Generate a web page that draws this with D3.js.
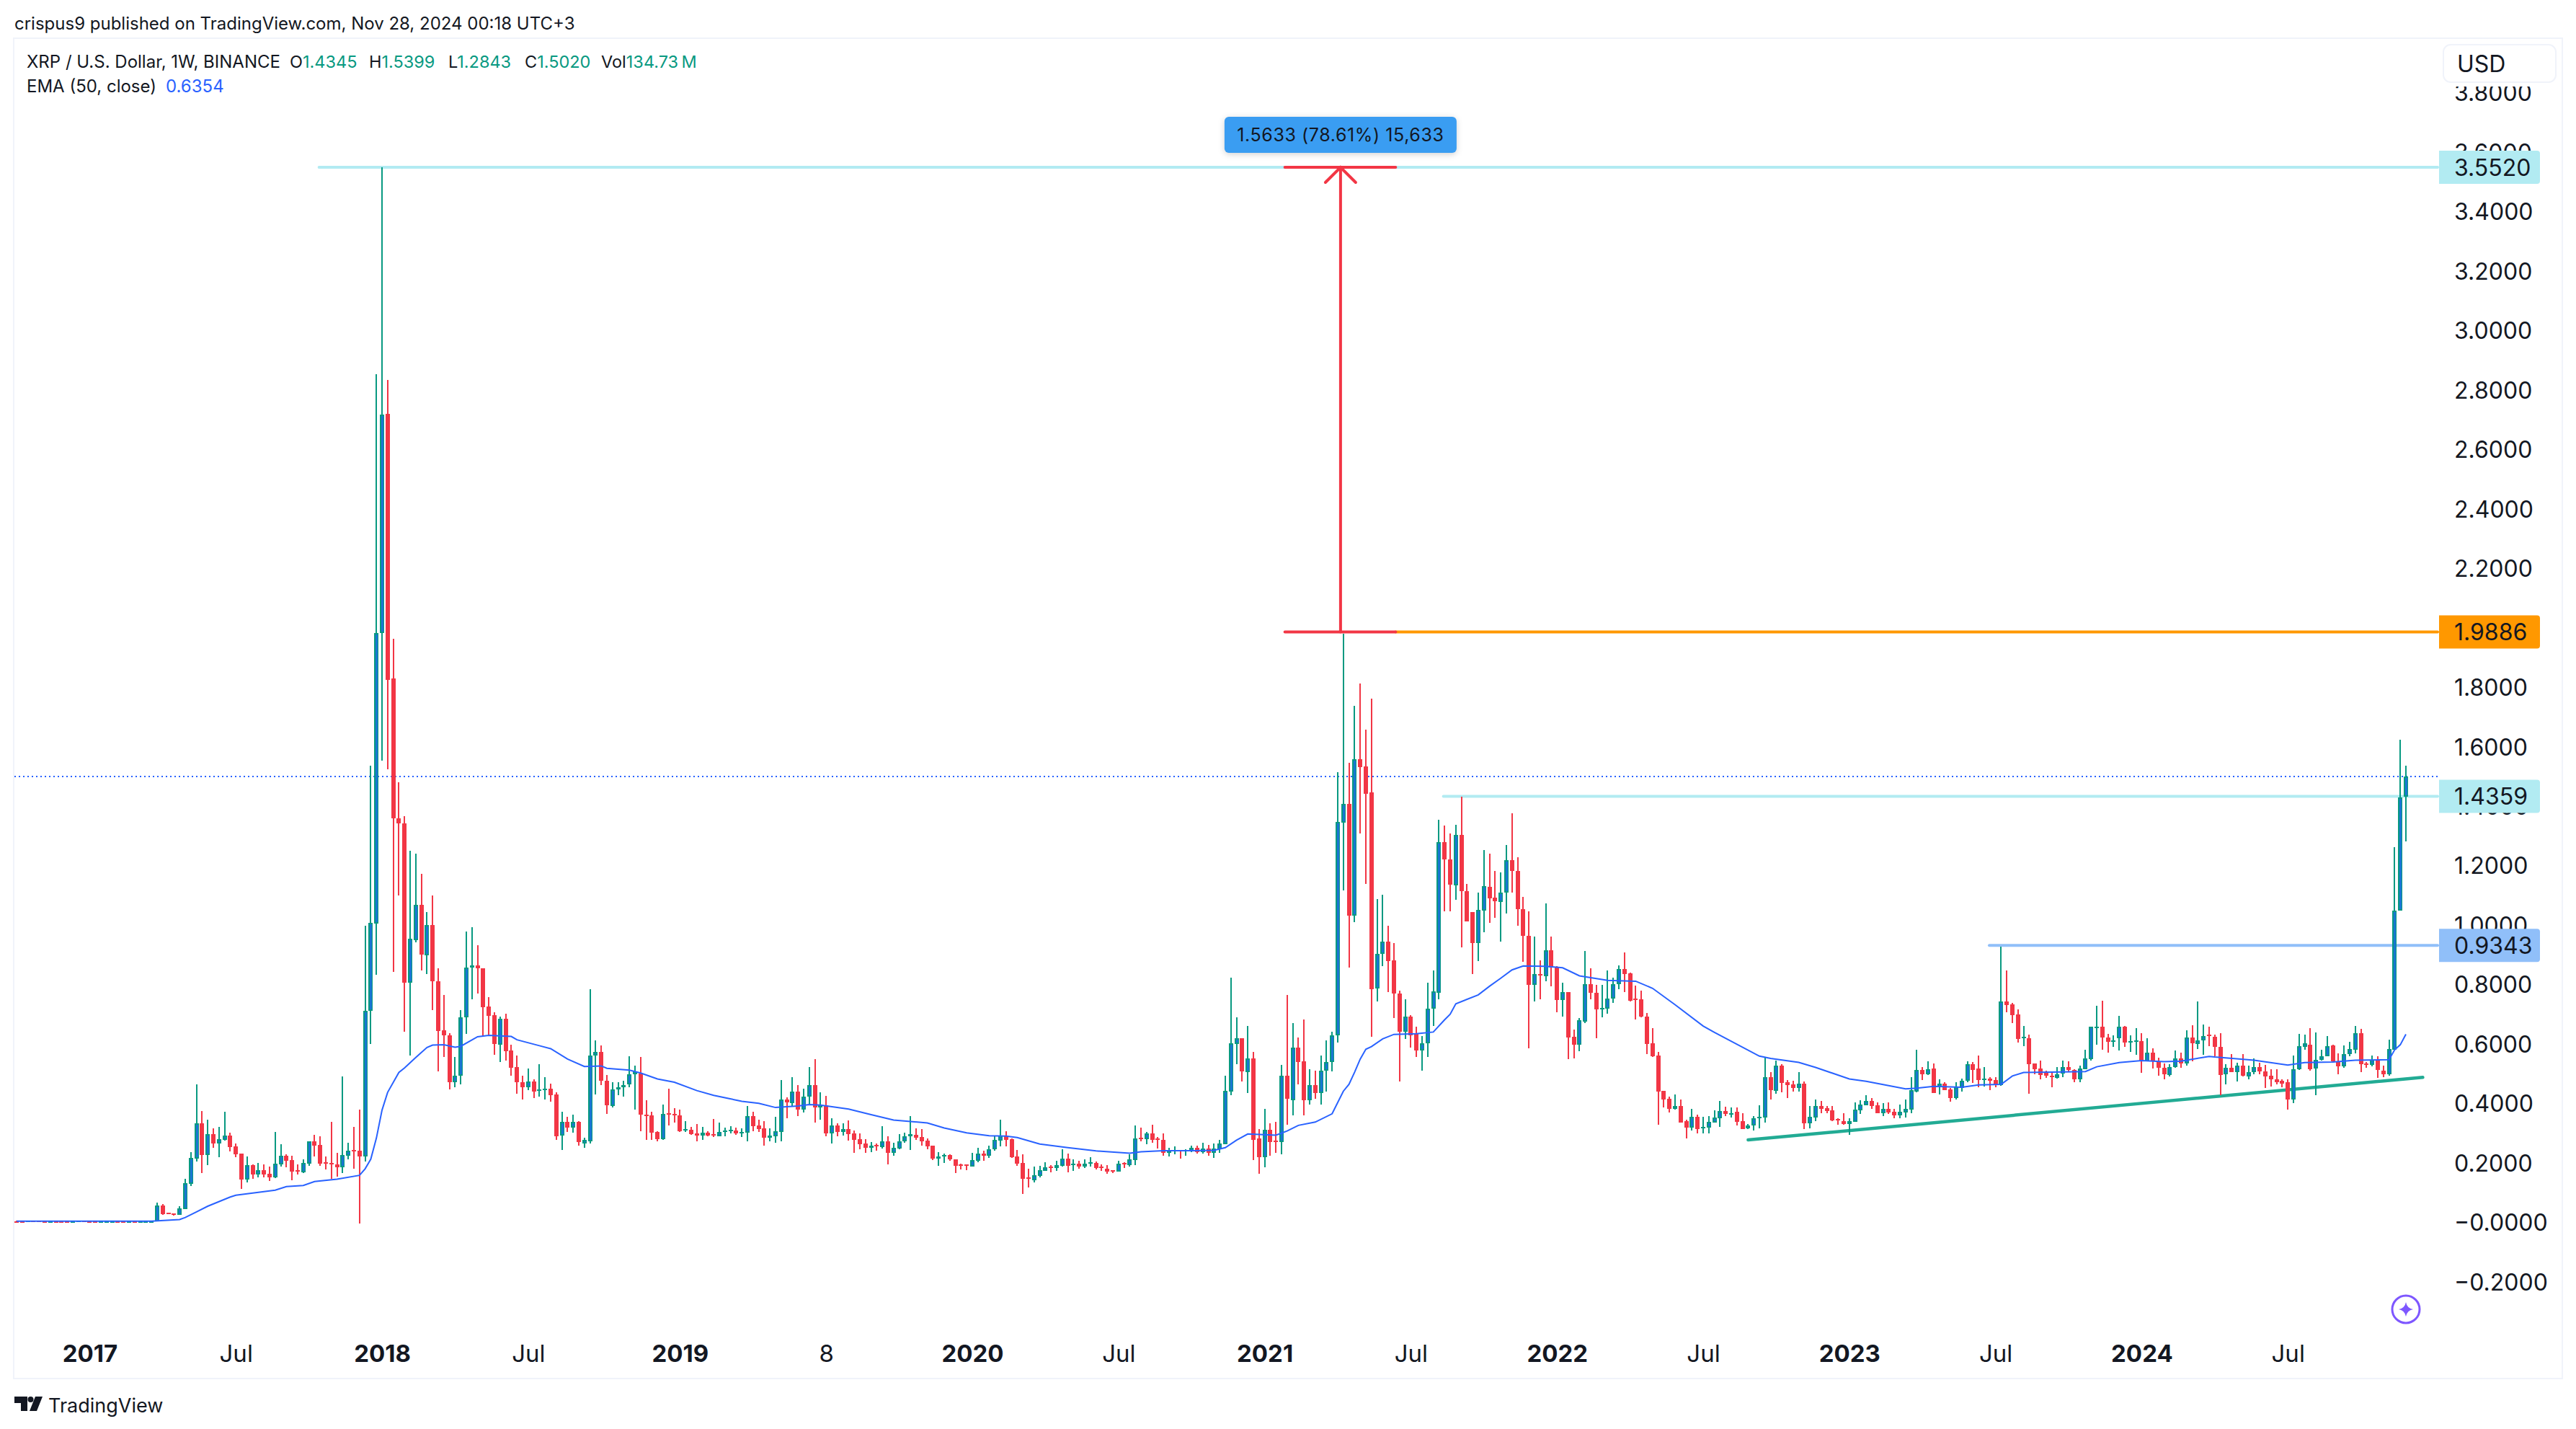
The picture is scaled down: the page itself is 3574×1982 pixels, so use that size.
<!DOCTYPE html>
<html>
<head>
<meta charset="utf-8">
<script src="https://d3js.org/d3.v7.min.js"></script>
<style>
  html, body { margin: 0; padding: 0; background: #fff; }
  svg { display: block; }
  text { font-family: Inter, "Noto Sans", sans-serif; fill: #131722; }
</style>
</head>
<body>
<div id="chart"></div>
<script>
//Weekly XRP candles, bar 65 is the week of Jan 1 2018, bar 425 is the last one
const opens = [
.0070,.0068,.0060,.0082,.0075,.0068,.0066,.0072,.0070,.0072,.0060,.0062,.0075,.0070,.0058,.0050,.0060,.0062,.0064,.0068,.0056,.0068,.0056,.0058,.0062,
.007,.0595,.034,.032,.029,.048,.132,.217,.336,.229,
.30,.268,.28,.295,.258,.234,.147,.195,.164,.178,
.166,.154,.198,.227,.212,.178,.171,.2,.275,.263,
.205,.203,.198,.188,.227,.246,.244,.225,.714,1.009,
1.986,2.723,1.833,1.363,1.345,.809,.951,1.07,.902,1.004,
.814,.648,.632,.474,.496,.693,.861,.868,.858,.728,
.699,.601,.688,.58,.524,.473,.457,.477,.448,.451,
.453,.434,.293,.34,.32,.341,.27,.276,.564,.575,
.48,.394,.45,.457,.465,.5,.504,.366,.363,.306,
.282,.37,.367,.363,.313,.315,.303,.295,.305,.30,
.293,.309,.312,.312,.303,.306,.361,.329,.32,.288,
.293,.308,.417,.405,.443,.383,.426,.465,.39,.397,
.303,.329,.308,.317,.303,.283,.269,.254,.264,.257,
.276,.237,.252,.275,.293,.298,.29,.278,.261,.218,
.225,.228,.215,.198,.198,.191,.21,.235,.227,.249,
.278,.293,.283,.225,.203,.154,.145,.16,.177,.191,
.186,.194,.218,.194,.199,.189,.199,.203,.191,.184,
.179,.174,.203,.196,.213,.288,.283,.303,.286,.281,
.237,.241,.245,.243,.242,.254,.24,.252,.237,.25,
.265,.441,.601,.621,.51,.555,.284,.222,.315,.277,
.272,.495,.415,.591,.545,.413,.465,.438,.513,.543,
.63,1.347,1.41,1.033,1.56,1.537,1.449,.789,.904,.946,
.883,.773,.645,.695,.636,.581,.605,.721,.777,1.283,
1.224,1.138,1.307,1.117,1.047,.942,1.052,1.132,1.094,1.081,
1.112,1.221,1.186,1.057,.967,.802,.838,.83,.918,.859,
.75,.778,.626,.599,.68,.805,.775,.72,.723,.756,
.803,.856,.84,.755,.752,.696,.605,.565,.446,.419,
.385,.395,.344,.322,.358,.32,.322,.34,.354,.378,
.368,.375,.344,.319,.329,.354,.354,.49,.446,.531,
.475,.468,.456,.47,.337,.355,.395,.387,.38,.351,
.344,.334,.341,.381,.397,.412,.397,.37,.385,.375,
.363,.373,.383,.444,.516,.502,.521,.458,.47,.45,
.421,.456,.48,.536,.521,.482,.487,.482,.465,.747,
.737,.703,.621,.623,.538,.521,.507,.497,.49,.502,
.524,.516,.485,.519,.552,.657,.66,.625,.611,.62,
.66,.61,.611,.613,.545,.574,.545,.523,.5,.524,
.554,.537,.624,.605,.616,.634,.626,.594,.5,.522,
.507,.529,.494,.507,.524,.51,.496,.485,.48,.475,
.417,.518,.594,.601,.52,.548,.561,.597,.545,.527,
.569,.583,.639,.537,.532,.547,.513,.5,.583,1.051,
1.4345];

const closes = [
.0062,.0060,.0082,.0070,.0060,.0062,.0072,.0062,.0062,.0060,.0062,.0075,.0062,.0058,.0050,.0058,.0062,.0064,.0056,.0056,.0068,.0056,.0058,.0062,.0070,
.0595,.031,.031,.028,.050,.135,.220,.336,.229,.30,
.268,.283,.295,.256,.232,.147,.195,.164,.178,.164,
.154,.20,.227,.21,.174,.174,.203,.275,.261,.2,
.2,.198,.188,.229,.244,.241,.225,.715,1.009,1.986,
2.72,1.829,1.363,1.345,.809,.956,1.07,.902,1.004,.814,
.646,.632,.474,.496,.693,.861,.868,.858,.728,.697,
.601,.688,.58,.521,.474,.457,.477,.443,.451,.453,
.431,.293,.34,.32,.34,.273,.281,.564,.576,.479,
.397,.45,.457,.465,.5,.51,.366,.363,.306,.282,
.367,.367,.363,.31,.317,.30,.295,.305,.295,.295,
.307,.312,.315,.303,.308,.361,.327,.317,.288,.295,
.31,.417,.407,.443,.383,.426,.465,.39,.397,.303,
.329,.308,.317,.30,.281,.266,.254,.261,.259,.276,
.237,.254,.276,.293,.30,.288,.276,.259,.218,.225,
.23,.213,.193,.193,.193,.213,.235,.227,.249,.281,
.293,.281,.222,.2,.15,.15,.162,.179,.189,.186,
.196,.218,.194,.199,.189,.199,.204,.186,.186,.174,
.174,.2,.198,.215,.286,.283,.303,.281,.282,.237,
.241,.245,.243,.247,.254,.24,.252,.237,.252,.269,
.445,.604,.621,.51,.555,.282,.222,.313,.273,.273,
.495,.418,.591,.542,.413,.465,.438,.514,.543,.632,
1.349,1.41,1.034,1.56,1.534,1.446,.787,.905,.946,.88,
.771,.645,.695,.632,.581,.605,.721,.78,1.283,1.224,
1.138,1.307,1.117,1.015,.942,1.053,1.134,1.093,1.081,1.113,
1.221,1.185,1.058,.967,.802,.838,.834,.918,.859,.75,
.777,.626,.599,.682,.805,.775,.719,.725,.756,.805,
.855,.84,.747,.752,.693,.604,.562,.444,.417,.385,
.395,.339,.322,.358,.317,.323,.341,.356,.378,.368,
.371,.341,.317,.329,.354,.358,.49,.446,.531,.472,
.465,.456,.47,.337,.358,.395,.385,.378,.347,.347,
.334,.344,.383,.4,.412,.395,.37,.385,.373,.363,
.375,.385,.448,.516,.502,.519,.439,.47,.448,.421,
.458,.48,.536,.516,.482,.487,.48,.465,.747,.735,
.701,.621,.626,.536,.519,.5,.494,.492,.502,.524,
.514,.485,.521,.555,.66,.661,.623,.611,.616,.66,
.606,.613,.615,.545,.574,.545,.523,.5,.526,.554,
.537,.624,.605,.616,.63,.63,.592,.5,.522,.507,
.529,.494,.509,.524,.509,.494,.485,.475,.471,.417,
.518,.596,.605,.518,.55,.561,.596,.543,.527,.569,
.585,.639,.534,.534,.549,.516,.5,.585,1.052,1.432,
1.502];

const highs = [
.0076,.0074,.0088,.0088,.0081,.0074,.0078,.0078,.0076,.0078,.0068,.0081,.0081,.0076,.0064,.0064,.0068,.0070,.0070,.0074,.0074,.0074,.0064,.0068,.0076,
.069,.064,.034,.033,.056,.149,.239,.467,.377,.348,
.318,.324,.375,.305,.268,.234,.225,.198,.203,.198,
.19,.307,.266,.232,.227,.198,.215,.275,.297,.292,
.224,.341,.237,.494,.271,.324,.382,1.0,1.54,2.857,
3.552,2.837,1.966,1.482,1.368,1.252,1.244,1.174,1.046,1.103,
.858,.767,.64,.56,.717,.982,.995,.934,.858,.761,
.71,.694,.704,.601,.563,.496,.521,.485,.536,.49,
.47,.44,.375,.357,.366,.344,.288,.786,.615,.598,
.499,.474,.473,.479,.561,.529,.56,.414,.375,.31,
.398,.452,.386,.381,.342,.325,.334,.325,.31,.351,
.339,.322,.327,.322,.32,.395,.375,.349,.342,.32,
.358,.482,.424,.49,.465,.453,.526,.552,.441,.429,
.354,.337,.337,.346,.312,.303,.283,.274,.269,.327,
.293,.271,.3,.305,.361,.32,.317,.285,.261,.239,
.235,.232,.215,.2,.198,.237,.254,.244,.261,.295,
.349,.31,.286,.247,.232,.184,.191,.193,.206,.196,
.21,.249,.235,.215,.21,.215,.221,.208,.198,.196,
.179,.21,.205,.232,.329,.322,.308,.332,.29,.303,
.254,.259,.245,.249,.261,.261,.271,.264,.269,.279,
.497,.827,.693,.621,.664,.576,.317,.384,.336,.341,
.533,.768,.674,.625,.685,.518,.513,.564,.616,.645,
1.517,1.983,1.548,1.741,1.815,1.659,1.765,1.09,1.104,1.0,
.942,.781,.754,.7,.66,.63,.81,.851,1.358,1.337,
1.312,1.341,1.435,1.141,1.047,1.113,1.254,1.242,1.186,1.181,
1.271,1.38,1.231,1.097,1.05,.963,.884,1.075,.964,.864,
.809,.778,.651,.691,.915,.858,.801,.802,.849,.827,
.866,.911,.843,.798,.781,.706,.657,.577,.446,.426,
.434,.417,.349,.385,.366,.358,.361,.38,.41,.392,
.39,.39,.371,.334,.361,.397,.558,.509,.548,.536,
.482,.48,.509,.477,.395,.417,.41,.395,.395,.354,
.37,.354,.407,.414,.431,.422,.407,.405,.407,.385,
.4,.417,.492,.584,.526,.545,.538,.485,.473,.455,
.475,.487,.545,.543,.565,.526,.491,.491,.931,.851,
.742,.72,.664,.635,.538,.548,.512,.507,.524,.548,
.545,.519,.531,.584,.662,.732,.749,.637,.632,.698,
.663,.632,.657,.64,.623,.588,.556,.537,.534,.58,
.574,.65,.666,.746,.667,.662,.634,.64,.534,.569,
.54,.569,.529,.554,.54,.532,.518,.518,.483,.485,
.565,.637,.635,.655,.642,.583,.63,.601,.572,.599,
.61,.664,.653,.543,.564,.561,.531,.618,1.266,1.627,
1.5399];

const lows = [
.0056,.0054,.0054,.0064,.0054,.0056,.0060,.0056,.0056,.0054,.0054,.0056,.0056,.0052,.0044,.0044,.0054,.0056,.0050,.0050,.0050,.0050,.0050,.0052,.0056,
.006,.029,.030,.026,.028,.048,.126,.208,.169,.195,
.254,.223,.278,.241,.222,.115,.137,.149,.154,.154,
.142,.152,.19,.188,.144,.164,.169,.193,.225,.193,
.181,.149,.157,.169,.215,.183,0,.208,.603,.835,
1.555,1.526,.846,1.102,.645,.564,.944,.851,.838,.717,
.511,.56,.451,.456,.467,.637,.753,.773,.626,.635,
.567,.542,.546,.496,.436,.417,.448,.422,.425,.416,
.408,.281,.245,.307,.304,.26,.253,.268,.432,.465,
.367,.389,.431,.425,.457,.381,.309,.281,.279,.275,
.28,.329,.338,.307,.306,.298,.276,.281,.293,.29,
.293,.293,.301,.298,.291,.276,.31,.308,.261,.276,
.271,.276,.354,.392,.361,.373,.402,.339,.349,.293,
.269,.293,.295,.278,.237,.249,.237,.24,.244,.252,
.198,.227,.249,.271,.247,.281,.261,.249,.213,.193,
.203,.21,.169,.181,.179,.191,.206,.21,.22,.244,
.259,.259,.22,.193,.099,.121,.138,.155,.177,.172,
.176,.191,.172,.176,.184,.186,.191,.181,.176,.167,
.169,.174,.186,.191,.196,.276,.266,.271,.252,.227,
.225,.232,.218,.227,.239,.235,.235,.227,.22,.237,
.265,.43,.534,.477,.438,.213,.167,.187,.226,.236,
.232,.331,.362,.467,.362,.4,.418,.398,.443,.51,
.607,1.119,.861,1.013,1.312,1.14,.626,.746,.864,.777,
.691,.477,.62,.591,.559,.514,.559,.663,.752,1.048,
1.048,1.087,.928,1.015,.837,.881,.978,1.009,1.027,.947,
1.041,1.113,1.001,.879,.589,.747,.752,.814,.797,.71,
.694,.552,.555,.579,.673,.752,.622,.693,.704,.741,
.788,.778,.745,.685,.693,.568,.558,.332,.39,.373,
.383,.339,.285,.312,.303,.303,.303,.34,.325,.361,
.356,.329,.317,.317,.312,.32,.339,.417,.436,.439,
.422,.443,.443,.317,.32,.344,.37,.37,.344,.331,
.331,.298,.341,.368,.397,.385,.37,.361,.368,.353,
.353,.356,.37,.441,.482,.499,.439,.434,.448,.409,
.416,.443,.475,.472,.456,.46,.448,.458,.463,.71,
.674,.608,.596,.436,.501,.485,.489,.458,.487,.49,
.507,.473,.473,.519,.548,.6,.584,.574,.594,.582,
.592,.577,.567,.505,.545,.521,.496,.485,.494,.523,
.523,.529,.545,.585,.567,.596,.561,.431,.466,.507,
.477,.494,.483,.502,.502,.455,.46,.466,.458,.381,
.404,.516,.583,.513,.431,.548,.561,.54,.502,.523,
.561,.572,.507,.523,.527,.488,.491,.496,.583,1.051,
1.2843];

//EMA at these bars
const emaBars = [0,24,29,30,32,34,38,39,46,48,51,53,57,61,62,63,64,65,66,68,69,71,73,74,76,78,79,82,84,88,89,93,95,98,101,104,105,109,111,114,117,121,124,129,132,135,139,141,143,148,152,156,162,165,169,173,176,178,182,187,192,198,200,204,209,213,215,217,219,224,226,228,231,234,236,237,238,239,240,241,243,245,249,252,254,255,256,260,262,264,266,268,272,275,278,283,288,291,295,300,302,310,312,317,320,326,329,336,338,341,346,349,353,355,357,362,368,370,374,378,382,385,390,391,398,404,407,412,416,422,423,424,425];
const emaValues = [.0065,.0068,.012,.019,.038,.057,.088,.094,.111,.123,.127,.14,.148,.161,.183,.215,.286,.38,.44,.507,.522,.557,.591,.599,.6,.592,.595,.627,.632,.628,.617,.597,.587,.552,.527,.529,.521,.515,.505,.485,.474,.446,.43,.41,.403,.389,.394,.399,.397,.384,.365,.347,.337,.32,.304,.294,.293,.288,.266,.254,.243,.235,.24,.244,.244,.245,.254,.279,.30,.296,.31,.329,.34,.368,.444,.467,.508,.552,.585,.594,.62,.635,.637,.643,.684,.703,.738,.768,.797,.824,.852,.865,.864,.859,.832,.817,.814,.79,.735,.663,.642,.562,.554,.541,.524,.485,.477,.452,.454,.46,.457,.465,.467,.495,.507,.508,.51,.526,.54,.547,.543,.545,.561,.559,.548,.532,.54,.542,.548,.55,.583,.6,.6354];

//2.0000 is not listed, the 1.9886 tag hides it completely in the picture
const priceTicks = [-0.2,0,0.2,0.4,0.6,0.8,1.0,1.2,1.4,1.6,1.8,2.2,2.4,2.6,2.8,3.0,3.2,3.4,3.6,3.8];
const timeTickBars = [13,39,65,91,118,144,170,196,222,248,274,300,326,352,378,404];
const timeTickLabels = ["2017","Jul","2018","Jul","2019","8","2020","Jul","2021","Jul","2022","Jul","2023","Jul","2024","Jul"];

//horizontal levels drawn on the chart
const levelPrices = [3.552,1.4359,0.9343,1.9886];
const levelStartBars = [53.8,253.8,350.9,245.3];
const levelLabels = ["3.5520","1.4359","0.9343","1.9886"];
const levelColors = ["#b2ebf2","#b2ebf2","#90bff9","#ff9800"];

const trendBars = [308,428];
const trendPrices = [0.28,0.4906];
const rangeBars = [225.6,235.5,245.3];
const rangePrices = [1.9886,3.552];
const lastPrice = 1.502;

const upColor = "#089981", upFill = "#1976d2", downColor = "#f23645", emaColor = "#2962ff";

const width = 3574, height = 1982;
const paneLeft = 20, paneTop = 54, paneRight = 3554, paneBottom = 1911, lineEnd = 3382;

const svg = d3.select("#chart").append("svg").attr("width", width).attr("height", height);

const x = d3.scaleLinear().domain([0, 425]).range([23, 3338]);
const y = d3.scaleLinear().domain([0, 3.552]).range([1696.5, 232]);

// pane frame
svg.append("rect").attr("x", paneLeft - 1).attr("y", paneTop - 1)
  .attr("width", paneRight - paneLeft + 2).attr("height", paneBottom - paneTop + 2)
  .attr("fill", "none").attr("stroke", "#f0f3fa").attr("stroke-width", 2);

// header and legend
svg.append("text").attr("x", 20).attr("y", 41).attr("font-size", 24)
  .text("crispus9 published on TradingView.com, Nov 28, 2024 00:18 UTC+3");
svg.append("text").attr("x", 37).attr("y", 94).attr("font-size", 24).text("XRP / U.S. Dollar, 1W, BINANCE");
const ohlcNames = ["O","H","L","C","Vol"];
const ohlcValues = ["1.4345","1.5399","1.2843","1.5020","134.73\u202fM"];
const ohlcX = [402,512,622,728,834];
ohlcNames.forEach(function(name, i) {
  const t = svg.append("text").attr("x", ohlcX[i]).attr("y", 94).attr("font-size", 23.5);
  t.append("tspan").text(name);
  t.append("tspan").style("fill", upColor).text(ohlcValues[i]);
});
svg.append("text").attr("x", 37).attr("y", 128).attr("font-size", 24).text("EMA (50, close)");
svg.append("text").attr("x", 230).attr("y", 128).attr("font-size", 24).style("fill", emaColor).text("0.6354");

// y axis
const yAxis = d3.axisRight(y).tickValues(priceTicks).tickSize(0).tickPadding(0)
  .tickFormat(function(d) { return (d <= 0 ? "\u2212" : "") + Math.abs(d).toFixed(4); });
const yG = svg.append("g").attr("transform", "translate(3405,0)").call(yAxis);
yG.select(".domain").remove();
yG.selectAll("text").attr("font-size", 32).attr("font-family", "Inter").style("fill", "#131722");

// x axis
const xAxis = d3.axisBottom(x).tickValues(timeTickBars).tickSize(0).tickPadding(0)
  .tickFormat(function(d, i) { return timeTickLabels[i]; });
const xG = svg.append("g").attr("transform", "translate(0,1877)").call(xAxis);
xG.select(".domain").remove();
xG.selectAll("text").attr("y", 0).attr("dy", ".36em").attr("font-size", 33).attr("font-family", "Inter")
  .attr("font-weight", function(d, i) { return timeTickLabels[i].length == 4 ? 700 : 400; })
  .style("fill", "#131722");

// last price dotted line
svg.append("line").attr("x1", paneLeft).attr("x2", lineEnd)
  .attr("y1", Math.round(y(lastPrice))).attr("y2", Math.round(y(lastPrice)))
  .attr("stroke", emaColor).attr("stroke-width", 2).attr("stroke-dasharray", "2 4")
  .attr("shape-rendering", "crispEdges");

// level lines
levelPrices.forEach(function(p, i) {
  svg.append("line").attr("x1", x(levelStartBars[i])).attr("x2", lineEnd).attr("y1", y(p)).attr("y2", y(p))
    .attr("stroke", levelColors[i]).attr("stroke-width", 4).attr("stroke-linecap", "round");
});

// trend line
svg.append("line").attr("x1", x(trendBars[0])).attr("y1", y(trendPrices[0]))
  .attr("x2", x(trendBars[1])).attr("y2", y(trendPrices[1]))
  .attr("stroke", "#22ab94").attr("stroke-width", 4.5).attr("stroke-linecap", "round");

// price range tool
const rangeG = svg.append("g").attr("stroke", downColor).attr("stroke-width", 4).attr("stroke-linecap", "round").attr("fill", "none");
rangePrices.forEach(function(p) {
  rangeG.append("line").attr("x1", x(rangeBars[0])).attr("x2", x(rangeBars[2])).attr("y1", y(p)).attr("y2", y(p));
});
rangeG.append("line").attr("x1", x(rangeBars[1])).attr("x2", x(rangeBars[1])).attr("y1", y(rangePrices[0])).attr("y2", y(rangePrices[1]));
rangeG.append("path").attr("d", d3.line()([
  [x(rangeBars[1]) - 21, y(rangePrices[1]) + 21],
  [x(rangeBars[1]), y(rangePrices[1])],
  [x(rangeBars[1]) + 21, y(rangePrices[1]) + 21]]));

const rangeLabel = svg.append("g").attr("transform", "translate(" + x(rangeBars[1]) + ",187)");
rangeLabel.append("rect").attr("x", -161).attr("y", -25).attr("width", 322).attr("height", 50).attr("rx", 6)
  .attr("fill", "#3a9df2").style("filter", "drop-shadow(0 2px 4px rgba(0,0,0,.18))");
rangeLabel.append("text").attr("text-anchor", "middle").attr("dy", ".36em").attr("font-size", 25)
  .attr("letter-spacing", 0.6).text("1.5633 (78.61%) 15,633");

// candles
const bars = d3.range(opens.length).map(function(i) {
  return {i: i, open: opens[i], high: highs[i], low: lows[i], close: closes[i], up: closes[i] >= opens[i]};
});

const candleG = svg.append("g").attr("shape-rendering", "crispEdges");
candleG.selectAll("rect.wick").data(bars).enter().append("rect").attr("class", "wick")
  .attr("x", function(d) { return Math.round(x(d.i)) - 1; })
  .attr("width", 2)
  .attr("y", function(d) { return y(d.high); })
  .attr("height", function(d) { return Math.max(1, y(d.low) - y(d.high)); })
  .attr("fill", function(d) { return d.up ? upColor : downColor; });

candleG.selectAll("rect.body").data(bars).enter().append("rect").attr("class", "body")
  .attr("x", function(d) { return Math.round(x(d.i)) - 3; })
  .attr("width", 6)
  .attr("y", function(d) { return Math.round(y(Math.max(d.open, d.close))); })
  .attr("height", function(d) { return Math.max(2, Math.round(Math.abs(y(d.open) - y(d.close)))); })
  .attr("fill", function(d) { return d.up ? upColor : downColor; });

// up candles have a blue core inside the green border
candleG.selectAll("rect.core").data(bars.filter(function(d) { return d.up && y(d.open) - y(d.close) > 4; })).enter()
  .append("rect").attr("class", "core")
  .attr("x", function(d) { return Math.round(x(d.i)) - 1; })
  .attr("width", 3)
  .attr("y", function(d) { return Math.round(y(d.close)) + 2; })
  .attr("height", function(d) { return Math.round(y(d.open) - y(d.close)) - 4; })
  .attr("fill", upFill);

// EMA
const emaLine = d3.line().x(function(d) { return x(d); }).y(function(d, i) { return y(emaValues[i]); });
svg.append("path").attr("d", emaLine(emaBars)).attr("fill", "none").attr("stroke", emaColor).attr("stroke-width", 2);

// level tags cover the axis labels
levelPrices.forEach(function(p, i) {
  const top = y(p) - 23;
  svg.append("path")
    .attr("d", "M3384," + top + "H3520a4,4 0 0 1 4,4V" + (top + 42) + "a4,4 0 0 1 -4,4H3384Z")
    .attr("fill", levelColors[i]);
  svg.append("text").attr("x", 3405).attr("y", y(p)).attr("dy", ".36em").attr("font-size", 32).text(levelLabels[i]);
});

// USD box
svg.append("rect").attr("x", 3388).attr("y", 58).attr("width", 160).attr("height", 62).attr("fill", "#fff");
svg.append("rect").attr("x", 3390).attr("y", 62).attr("width", 156).attr("height", 52).attr("rx", 10)
  .attr("fill", "#fff").attr("stroke", "#f0f3fa").attr("stroke-width", 2);
svg.append("text").attr("x", 3409).attr("y", 88).attr("dy", ".36em").attr("font-size", 32).text("USD");

// sparkle button
const spark = svg.append("g").attr("transform", "translate(3338,1816)");
spark.append("circle").attr("r", 19).attr("fill", "#fff").attr("stroke", "#7e57ff").attr("stroke-width", 3);
spark.append("path").attr("d", "M0,-10Q1.5,-1.5 10,0Q1.5,1.5 0,10Q-1.5,1.5 -10,0Q-1.5,-1.5 0,-10Z").attr("fill", "#7e57ff");

// TradingView footer
const logo = svg.append("g").attr("fill", "#131722");
logo.append("path").attr("d", "M20,1937H38V1957H29V1946H20Z");
logo.append("circle").attr("cx", 42.5).attr("cy", 1941).attr("r", 4);
logo.append("path").attr("d", "M59,1937L51,1957H41L49,1937Z");
svg.append("text").attr("x", 67).attr("y", 1959).attr("font-size", 27).text("TradingView");
</script>
</body>
</html>
